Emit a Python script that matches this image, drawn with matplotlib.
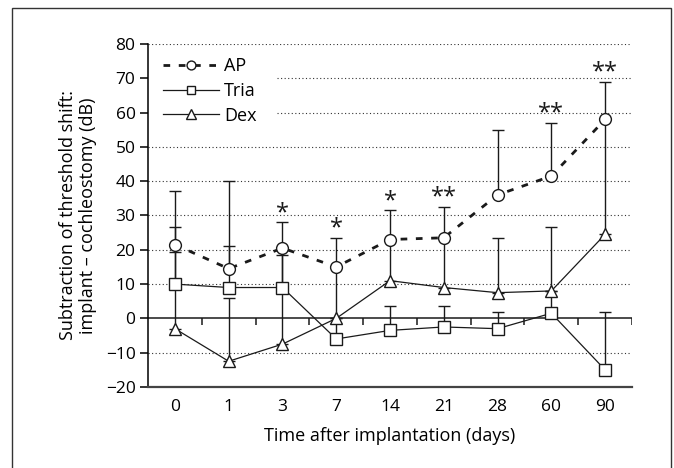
import numpy as np
import matplotlib.pyplot as plt
from matplotlib.patches import Rectangle

plt.rcParams['font.family'] = ['Open Sans', 'DejaVu Sans']
plt.rcParams['font.size'] = 12.5

# Data (upper error bars only)
days = ['0', '1', '3', '7', '14', '21', '28', '60', '90']

ap_mean = [21.5, 14.5, 20.5, 15, 23, 23.5, 36, 41.5, 58]
ap_err = [5, 6.5, 7.5, 8.5, 8.5, 9, 19, 15.5, 11]

tria_mean = [10, 9, 9, -6, -3.5, -2.5, -3, 1.5, -15]
tria_err = [27, 31, 11.5, 6, 7, 6, 5, 6.5, 17]

dex_mean = [-3, -12.5, -7.5, 0, 11, 9, 7.5, 8, 24.5]
dex_err = [22.5, 18.5, 26, 15, 12, 14.5, 16, 18.5, 33.5]

stars = ['', '', '*', '*', '*', '**', '', '**', '**']

yticks = [-20, -10, 0, 10, 20, 30, 40, 50, 60, 70, 80]
grid_full = [80, 50, 40, 30, 20, 10, -10]
grid_short = [70, 60]

ink = '#1a1a1a'

fig = plt.figure(figsize=(6.74, 4.68), dpi=100)
ax = fig.add_axes([0.2196, 0.1731, 0.7181, 0.7329])

x = np.arange(len(days))

# dotted grid lines
ax.hlines(grid_full, -0.5, 8.5, colors='#333333', linestyles=(0, (1, 2.2)), linewidth=0.8, zorder=1)
ax.hlines(grid_short, 1.9, 8.5, colors='#333333', linestyles=(0, (1, 2.2)), linewidth=0.8, zorder=1)

# zero line with its small ticks between the categories
ax.axhline(0, color=ink, linewidth=1.1, zorder=2)
ax.vlines(np.arange(0.5, 9, 1), -1.9, 0, colors=ink, linewidth=1.1, zorder=2)

# error bars (upper only)
for mean, err in [(tria_mean, tria_err), (dex_mean, dex_err), (ap_mean, ap_err)]:
    ax.errorbar(x, mean, yerr=[np.zeros(len(err)), err], fmt='none', ecolor=ink,
                elinewidth=1.0, capsize=4, capthick=1.0, zorder=3)

ax.plot(x, tria_mean, color=ink, linewidth=0.9, marker='s', markersize=8,
        markerfacecolor='white', markeredgecolor=ink, markeredgewidth=1.0, label='Tria', zorder=4)
ax.plot(x, dex_mean, color=ink, linewidth=0.9, marker='^', markersize=9,
        markerfacecolor='white', markeredgecolor=ink, markeredgewidth=1.0, label='Dex', zorder=4)
ax.plot(x, ap_mean, color=ink, linewidth=2.0, linestyle=(0, (2.4, 3.1)), marker='o', markersize=8.5,
        markerfacecolor='white', markeredgecolor=ink, markeredgewidth=1.0, label='AP', zorder=5)

# significance marks
for i, s in enumerate(stars):
    if s:
        ax.text(x[i], ap_mean[i] + ap_err[i] - 0.8, s, ha='center', va='bottom',
                fontsize=17, color=ink)

ax.set_xlim(-0.5, 8.5)
ax.set_ylim(-20, 80)
ax.set_yticks(yticks)
ax.set_xticks(x)
ax.set_xticklabels(days)
ax.tick_params(axis='x', length=0, pad=9)
ax.tick_params(axis='y', direction='out', length=6, width=1.1, pad=3)

ax.spines['top'].set_visible(False)
ax.spines['right'].set_visible(False)
ax.spines['left'].set_linewidth(1.1)
ax.spines['bottom'].set_linewidth(1.6)
ax.spines['bottom'].set_color('#444444')

ax.set_xlabel('Time after implantation (days)', fontsize=13, labelpad=8)
ax.set_ylabel('Subtraction of threshold shift:\nimplant \u2013 cochleostomy (dB)', fontsize=13,
              labelpad=6, linespacing=1.15)

handles, labels = ax.get_legend_handles_labels()
order = [2, 0, 1]
ax.legend([handles[i] for i in order], [labels[i] for i in order], loc='upper left',
          bbox_to_anchor=(0.03, 0.962), frameon=False, handlelength=3.1, handletextpad=0.3,
          borderpad=0, borderaxespad=0, labelspacing=0.38, markerscale=0.75, fontsize=13)

# outer frame of the panel
fig.add_artist(Rectangle((0.018, -0.01), 0.977, 0.993, transform=fig.transFigure,
                         fill=False, linewidth=1.0, edgecolor='#333333'))

fig.savefig('out.png', dpi=100)
